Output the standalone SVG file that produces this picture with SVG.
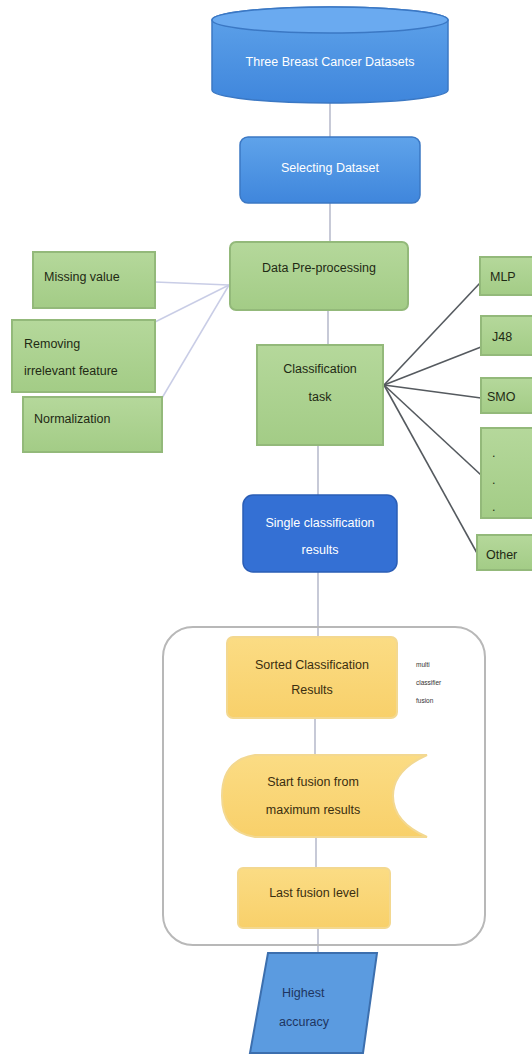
<svg xmlns="http://www.w3.org/2000/svg" width="532" height="1057" viewBox="0 0 532 1057">
<defs>
<linearGradient id="gBlue" x1="0" y1="0" x2="0" y2="1">
<stop offset="0" stop-color="#5fa3ea"/><stop offset="1" stop-color="#3f86dc"/>
</linearGradient>
<linearGradient id="gGreen" x1="0" y1="0" x2="0" y2="1">
<stop offset="0" stop-color="#b5d89b"/><stop offset="1" stop-color="#a3cc86"/>
</linearGradient>
<linearGradient id="gYellow" x1="0" y1="0" x2="0" y2="1">
<stop offset="0" stop-color="#fbdc84"/><stop offset="1" stop-color="#f8d06a"/>
</linearGradient>
<style>
.green{fill:url(#gGreen);stroke:#93b97a;stroke-width:2}
.yellow{fill:url(#gYellow);stroke:#f3d890;stroke-width:2}
.blue{fill:url(#gBlue);stroke:#3b78c4;stroke-width:1.5}
.t{font-family:"Liberation Sans",Arial,sans-serif;font-size:12.5px;fill:#1f2a14}
.tw{font-family:"Liberation Sans",Arial,sans-serif;font-size:12.5px;fill:#ffffff}
.ty{font-family:"Liberation Sans",Arial,sans-serif;font-size:12.5px;fill:#3a2e10}
.c{text-anchor:middle}
.lv{stroke:#a9adc2;stroke-width:1.3;fill:none}
.ll{stroke:#c9cde6;stroke-width:1.5;fill:none}
.ld{stroke:#555a5f;stroke-width:1.6;fill:none}
</style>
</defs>
<rect width="532" height="1057" fill="#ffffff"/>

<g id="connectors">
<line class="lv" x1="330" y1="102" x2="330" y2="137"/>
<line class="lv" x1="330" y1="203" x2="330" y2="242"/>
<line class="lv" x1="328" y1="310" x2="328" y2="345"/>
<line class="ll" x1="155" y1="282" x2="229" y2="285"/>
<line class="ll" x1="155" y1="322" x2="229" y2="285"/>
<line class="ll" x1="162" y1="398" x2="229" y2="285"/>
<line class="ld" x1="384" y1="385" x2="480" y2="283"/>
<line class="ld" x1="384" y1="385" x2="481" y2="347"/>
<line class="ld" x1="384" y1="385" x2="481" y2="398"/>
<line class="ld" x1="384" y1="385" x2="481" y2="475"/>
<line class="ld" x1="384" y1="385" x2="477" y2="553"/>
<line class="lv" x1="318" y1="445" x2="318" y2="495"/>
<line class="lv" x1="318" y1="572" x2="318" y2="637"/>
<line class="lv" x1="315" y1="718" x2="315" y2="755"/>
<line class="lv" x1="316" y1="837" x2="316" y2="868"/>
<line class="lv" x1="318" y1="928" x2="318" y2="953"/>
</g>

<g id="n-datasets">
<path class="blue" d="M212,20 A118,13 0 0,1 448,20 L448,90 A118,13 0 0,1 212,90 Z"/>
<ellipse cx="330" cy="20" rx="118" ry="13" fill="#6aaaf0" stroke="#3b78c4" stroke-width="1.5"/>
<text class="tw c" x="330" y="66" font-size="13">Three Breast Cancer Datasets</text>
</g>

<g id="n-selecting">
<rect class="blue" x="240" y="137" width="180" height="66" rx="8"/>
<text class="tw c" x="330" y="172">Selecting Dataset</text>
</g>

<g id="n-preprocessing">
<rect class="green" x="230" y="242" width="178" height="68" rx="6"/>
<text class="t c" x="319" y="272">Data Pre-processing</text>
</g>

<g id="n-missing">
<rect class="green" x="33" y="252" width="122" height="56"/>
<text class="t" x="44" y="281">Missing value</text>
</g>

<g id="n-removing">
<rect class="green" x="12" y="320" width="143" height="72"/>
<text class="t" x="24" y="348">Removing</text>
<text class="t" x="24" y="375">irrelevant feature</text>
</g>

<g id="n-normalization">
<rect class="green" x="23" y="397" width="139" height="55"/>
<text class="t" x="34" y="423">Normalization</text>
</g>

<g id="n-classification">
<rect class="green" x="257" y="345" width="126" height="100"/>
<text class="t c" x="320" y="373">Classification</text>
<text class="t c" x="320" y="401">task</text>
</g>

<g id="n-mlp">
<rect class="green" x="480" y="257" width="60" height="38"/>
<text class="t" x="490" y="281">MLP</text>
</g>

<g id="n-j48">
<rect class="green" x="481" y="316" width="60" height="39"/>
<text class="t" x="492" y="341">J48</text>
</g>

<g id="n-smo">
<rect class="green" x="481" y="378" width="60" height="35"/>
<text class="t" x="487" y="401">SMO</text>
</g>

<g id="n-dots">
<rect class="green" x="481" y="428" width="60" height="90"/>
<text class="t" x="492" y="457">.</text>
<text class="t" x="492" y="484">.</text>
<text class="t" x="492" y="511">.</text>
</g>

<g id="n-other">
<rect class="green" x="477" y="535" width="63" height="35"/>
<text class="t" x="486" y="559">Other</text>
</g>

<g id="n-single">
<rect x="243" y="495" width="154" height="77" rx="10" fill="#3470d4" stroke="#2a5db5" stroke-width="1.5"/>
<text class="tw c" x="320" y="527">Single classification</text>
<text class="tw c" x="320" y="554">results</text>
</g>

<g id="n-container">
<rect x="163" y="627" width="322" height="318" rx="30" fill="none" stroke="#b8b8b8" stroke-width="2"/>
</g>

<g id="n-sorted">
<rect class="yellow" x="227" y="637" width="170" height="81" rx="6"/>
<text class="ty c" x="312" y="669">Sorted Classification</text>
<text class="ty c" x="312" y="694">Results</text>
</g>

<g id="n-note">
<text x="416" y="667" font-family="Liberation Sans,Arial,sans-serif" font-size="6.5" fill="#333">multi</text>
<text x="416" y="685" font-family="Liberation Sans,Arial,sans-serif" font-size="6.5" fill="#333">classifier</text>
<text x="416" y="703" font-family="Liberation Sans,Arial,sans-serif" font-size="6.5" fill="#333">fusion</text>
</g>

<g id="n-start">
<path class="yellow" d="M255,755 L427,755 Q393,770 393,796 Q393,822 427,837 L255,837 Q222,832 222,796 Q222,760 255,755 Z"/>
<text class="ty c" x="313" y="786">Start fusion from</text>
<text class="ty c" x="313" y="814">maximum results</text>
</g>

<g id="n-last">
<rect class="yellow" x="238" y="868" width="152" height="60" rx="5"/>
<text class="ty c" x="314" y="897">Last fusion level</text>
</g>

<g id="n-highest">
<path d="M268,953 L377,953 L363,1053 L250,1053 Z" fill="#5b9be0" stroke="#3c6fae" stroke-width="2"/>
<text x="282" y="997" font-family="Liberation Sans,Arial,sans-serif" font-size="12.5" fill="#1e3560">Highest</text>
<text x="279" y="1026" font-family="Liberation Sans,Arial,sans-serif" font-size="12.5" fill="#1e3560">accuracy</text>
</g>
</svg>
